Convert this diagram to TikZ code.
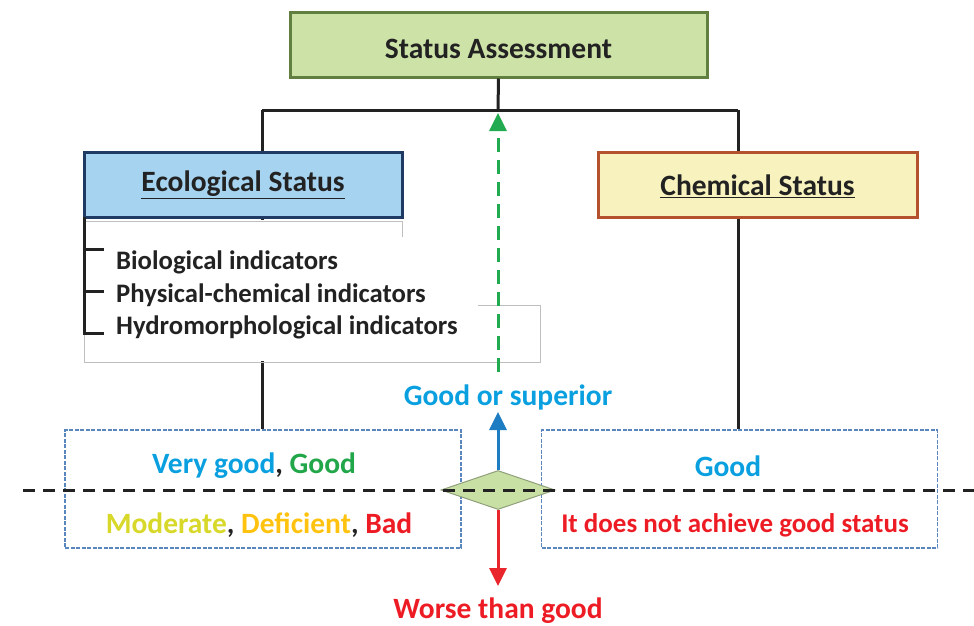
\documentclass[tikz,border=0pt]{standalone}
\usepackage{fontspec}
\setmainfont{Carlito}
\usetikzlibrary{arrows.meta,shapes.geometric}
\definecolor{titlefill}{HTML}{CDE2A7}
\definecolor{titledraw}{HTML}{617F3E}
\definecolor{ecofill}{HTML}{A6D3F0}
\definecolor{ecodraw}{HTML}{1F3A63}
\definecolor{chemfill}{HTML}{F8F3BE}
\definecolor{chemdraw}{HTML}{B5522E}
\definecolor{txtblue}{HTML}{0AA0E0}
\definecolor{txtgreen}{HTML}{22A64A}
\definecolor{txtyellow}{HTML}{D8D82A}
\definecolor{txtgold}{HTML}{FFC20E}
\definecolor{txtred}{HTML}{ED1C24}
\definecolor{arrblue}{HTML}{1E7DC2}
\definecolor{arrred}{HTML}{E8262B}
\definecolor{arrgreen}{HTML}{22AA50}
\definecolor{diafill}{HTML}{C8E0A4}
\definecolor{diadraw}{HTML}{8FA07A}
\definecolor{resdraw}{HTML}{5A86BE}
\definecolor{darktext}{HTML}{222222}
\begin{document}
\begin{tikzpicture}[x=1pt,y=-1pt,
  headbox/.style={draw, line width=3pt, inner sep=0pt, font=\fontsize{29.5}{35}\selectfont\bfseries, text=darktext},
  resbox/.style={draw=resdraw, line width=1.2pt, dash pattern=on 4pt off 1.5pt, minimum width=396pt, minimum height=118pt, inner sep=0pt},
  listtxt/.style={anchor=west, inner sep=0pt, font=\fontsize{26.7}{32}\selectfont\bfseries, text=darktext},
  restxt/.style={inner sep=0pt, font=\fontsize{29.5}{35}\selectfont\bfseries},
  conn/.style={line width=3pt, draw=darktext},
  tip/.style={-{Triangle[length=18pt,width=17pt]}}
]
\useasboundingbox (0,0) rectangle (974,626);

% header boxes
\node[headbox, fill=titlefill, draw=titledraw, minimum width=417pt, minimum height=64pt, text height=28pt, text depth=0pt] (status) at (498.5,45) {Status Assessment};
\node[headbox, fill=ecofill, draw=ecodraw, minimum width=318pt, minimum height=65pt] (eco) at (243,184.5) {\underline{Ecological Status}};
\node[headbox, fill=chemfill, draw=chemdraw, minimum width=319pt, minimum height=65pt, text height=24pt] (chem) at (757.5,184.5) {\underline{Chemical Status}};

% result boxes
\node[resbox] (ecor) at (263,489) {};
\node[resbox] (chemr) at (739.5,489) {};

% tree connectors
\coordinate (j) at (498,110);
\coordinate (jl) at (262,110);
\coordinate (jr) at (738,110);
\draw[conn] (status.south) -- (j);
\draw[conn] (jl) -- (jr);
\draw[conn] (jl) -- (jl |- eco.north);
\draw[conn] (jr) -- (jr |- chem.north);
\draw[conn] (jl |- eco.south) -- (jl |- ecor.north);
\draw[conn] (jr |- chem.south) -- (jr |- chemr.north);

% white panel for indicator list
\fill[white] (86,220) rectangle (539,361);
\draw[gray!50, line width=1pt] (84,221) -- (402,221) -- (402,237);
\draw[gray!50, line width=1pt] (478,305) -- (540,305) -- (540,362) -- (84,362) -- (84,221);

% bracket
\coordinate (b0) at (84,217);
\coordinate (b1) at (84,249);
\coordinate (b2) at (84,291);
\coordinate (b3) at (84,333);
\draw[conn] (b0) -- (b3) -- ++(20,0);
\draw[conn] (b1) -- ++(20,0);
\draw[conn] (b2) -- ++(20,0);

\node[listtxt] (bio) at (116,262) {Biological indicators};
\node[listtxt] (phys) at (116,295) {Physical-chemical indicators};
\node[listtxt] (hydro) at (116,327) {Hydromorphological indicators};

% diamond and arrows
\node[diamond, draw=diadraw, fill=diafill, line width=1pt, minimum width=114pt, minimum height=39pt, aspect=2.9, inner sep=0pt] (dia) at (498,490) {};
\node[restxt, text=txtblue] (good) at (508,397) {Good or superior};
\node[restxt, text=txtred] (worse) at (498,611) {Worse than good};
\coordinate (up) at (498,412);
\coordinate (down) at (498,586);
\draw[tip, line width=3pt, arrblue] (dia.north) -- (up);
\draw[tip, line width=3pt, arrred] (dia.south) -- (down);

\coordinate (gstart) at (498,372);
\coordinate (gend) at (498,113);
\draw[tip, line width=3pt, arrgreen, dash pattern=on 14pt off 8pt] (gstart) -- (gend);

% dashed threshold line
\coordinate (dl) at (23,490);
\coordinate (dr) at (974,490);
\draw[line width=3pt, draw=darktext, dash pattern=on 12pt off 8pt] (dl) -- (dr);

% result texts
\node[restxt] (ecoup) at (254,466) {\textcolor{txtblue}{Very good}\textcolor{darktext}{,} \textcolor{txtgreen}{Good}};
\node[restxt] (ecodown) at (259,525) {\textcolor{txtyellow}{Moderate}\textcolor{darktext}{,} \textcolor{txtgold}{Deficient}\textcolor{darktext}{,} \textcolor{txtred}{Bad}};
\node[restxt, text=txtblue] (chemup) at (728,466) {Good};
\node[restxt, text=txtred, font=\fontsize{27}{32}\selectfont\bfseries] (chemdown) at (735,525) {It does not achieve good status};
\end{tikzpicture}
\end{document}
